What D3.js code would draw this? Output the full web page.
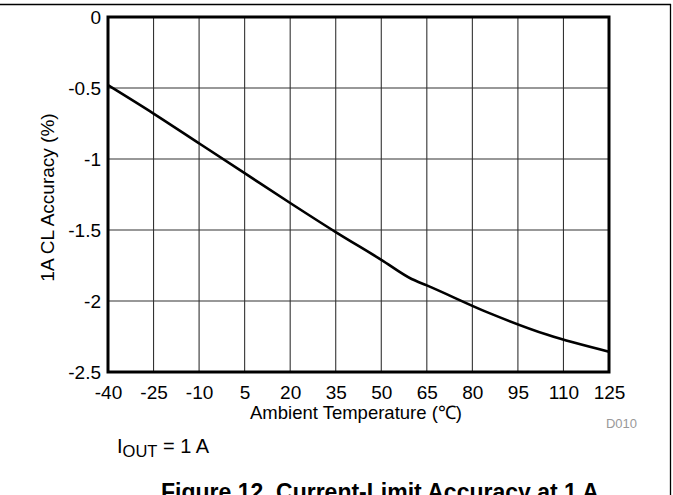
<!DOCTYPE html>
<html><head><meta charset="utf-8">
<script src="https://cdn.jsdelivr.net/npm/d3@7"></script>
<style>
html,body{margin:0;padding:0;background:#fff;}
text{font-family:"Liberation Sans",Arial,sans-serif;}
</style></head>
<body><svg id="c" width="673" height="495"></svg>
<script>
const temps = [-40, -25, -10, 5, 20, 35, 50, 60, 65, 85, 105, 125];
const accuracy = [-0.48, -0.68, -0.89, -1.10, -1.31, -1.515, -1.71, -1.845, -1.89, -2.08, -2.24, -2.357];
const xTicks = [-40, -25, -10, 5, 20, 35, 50, 65, 80, 95, 110, 125];
const yTicks = [0, -0.5, -1, -1.5, -2, -2.5];

const svg = d3.select("#c");
const L = 108, R = 609, T = 17, B = 372;
const x = d3.scaleLinear().domain([-40, 125]).range([L, R]);
const y = d3.scaleLinear().domain([0, -2.5]).range([T, B]);
const FF = "Liberation Sans, Arial, sans-serif";

// outer frame lines
svg.append("line").attr("x1", 0).attr("x2", 671).attr("y1", 4.5).attr("y2", 4.5).attr("stroke", "#000").attr("stroke-width", 1.3);
svg.append("line").attr("x1", 670.5).attr("x2", 670.5).attr("y1", 4).attr("y2", 495).attr("stroke", "#000").attr("stroke-width", 1.3);

// grid
const g = svg.append("g");
g.selectAll(".vg").data(xTicks.slice(1, -1)).enter().append("line")
  .attr("x1", d => x(d)).attr("x2", d => x(d)).attr("y1", T).attr("y2", B)
  .attr("stroke", "#333").attr("stroke-width", 1.1);
g.selectAll(".hg").data(yTicks.slice(1, -1)).enter().append("line")
  .attr("x1", L).attr("x2", R).attr("y1", d => y(d)).attr("y2", d => y(d))
  .attr("stroke", "#333").attr("stroke-width", 1.1);

// axes (labels only)
const xAxis = d3.axisBottom(x).tickValues(xTicks).tickSize(0).tickPadding(0).tickFormat(d => d);
const xa = svg.append("g").attr("transform", `translate(0,${B})`).call(xAxis);
xa.select(".domain").remove();
xa.selectAll("text").attr("font-size", 19).attr("fill", "#000").attr("dy", 0).attr("y", 27)
  .attr("font-family", FF);

const yAxis = d3.axisLeft(y).tickValues(yTicks).tickSize(0).tickPadding(0).tickFormat(d => d);
const ya = svg.append("g").attr("transform", `translate(${L},0)`).call(yAxis);
ya.select(".domain").remove();
ya.selectAll("text").attr("font-size", 19).attr("fill", "#000").attr("x", -7).attr("dy", "0.35em")
  .attr("font-family", FF);

// data line
const line = d3.line().x((d, i) => x(temps[i])).y(d => y(d)).curve(d3.curveMonotoneX);
svg.append("path").datum(accuracy).attr("d", line).attr("fill", "none")
  .attr("stroke", "#000").attr("stroke-width", 2.6).attr("stroke-linejoin", "round");

// plot frame
svg.append("rect").attr("x", L).attr("y", T).attr("width", R - L).attr("height", B - T)
  .attr("fill", "none").attr("stroke", "#000").attr("stroke-width", 3);

// titles
svg.append("text").attr("x", 356).attr("y", 418.5).attr("text-anchor", "middle")
  .attr("font-size", 18.5).text("Ambient Temperature (\u2103)");
svg.append("text").attr("transform", `translate(53.5,197.5) rotate(-90)`).attr("text-anchor", "middle")
  .attr("font-size", 19).text("1A CL Accuracy (%)");
svg.append("text").attr("x", 637).attr("y", 428).attr("text-anchor", "end")
  .attr("font-size", 13).attr("fill", "#999").text("D010");

const io = svg.append("text").attr("x", 117).attr("y", 453.3).attr("font-size", 20);
io.append("tspan").text("I");
io.append("tspan").attr("font-size", 16.5).attr("dy", 3.4).text("OUT");
io.append("tspan").attr("dy", -3.4).text(" = 1 A");

svg.append("text").attr("x", 380).attr("y", 500).attr("text-anchor", "middle")
  .attr("font-size", 23).attr("font-weight", "bold").text("Figure 12. Current-Limit Accuracy at 1 A");
</script></body></html>
